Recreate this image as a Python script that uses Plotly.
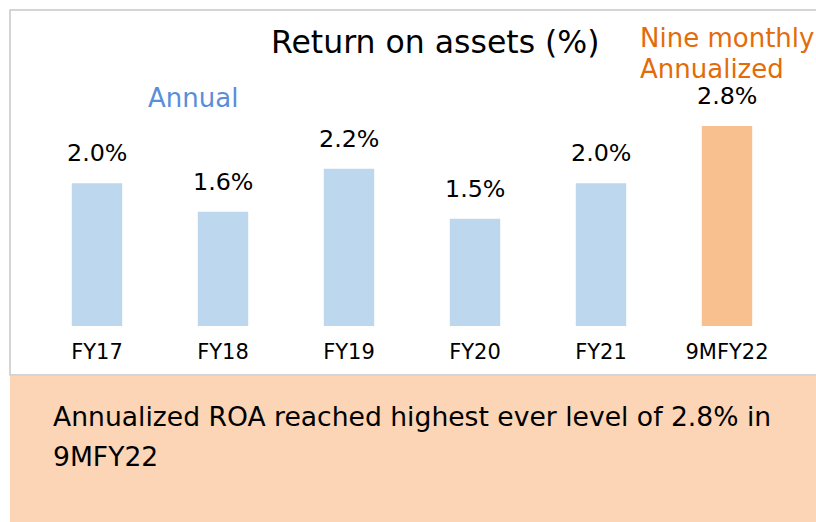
import plotly.graph_objects as go

categories = ["FY17", "FY18", "FY19", "FY20", "FY21", "9MFY22"]
roa_values = [2.0, 1.6, 2.2, 1.5, 2.0, 2.8]
value_labels = ["2.0%", "1.6%", "2.2%", "1.5%", "2.0%", "2.8%"]
bar_colors = ["#BDD7EE"] * 5 + ["#F9C08F"]

W, H = 816, 522
FONT = "DejaVu Sans"


def px_x(p):
    return p / W


def px_y(p):
    return 1 - p / H


def add_text(text, x, y, size, color, xanchor="center", align="center"):
    fig.add_annotation(
        x=px_x(x), y=px_y(y), xref="paper", yref="paper",
        text=text, showarrow=False,
        xanchor=xanchor, yanchor="middle", align=align,
        font=dict(family=FONT, size=size, color=color),
    )


fig = go.Figure()

fig.add_trace(
    go.Bar(
        x=list(range(len(categories))),
        y=roa_values,
        width=0.4,
        marker=dict(color=bar_colors, line=dict(width=0)),
        hoverinfo="skip",
    )
)

# value labels above the bars
for i, (v, lab) in enumerate(zip(roa_values, value_labels)):
    fig.add_annotation(
        x=i, y=v, xref="x", yref="y",
        text=lab, showarrow=False,
        yanchor="bottom", yshift=14,
        font=dict(family=FONT, size=23.8, color="black"),
    )

# white chart area with grey border, peach comment box
fig.add_shape(
    type="rect", xref="paper", yref="paper",
    x0=px_x(10), x1=px_x(830), y0=px_y(375), y1=px_y(10),
    line=dict(color="#C8C8C8", width=1.5), fillcolor="rgba(0,0,0,0)",
    layer="below",
)
fig.add_shape(
    type="rect", xref="paper", yref="paper",
    x0=px_x(10), x1=px_x(830), y0=px_y(540), y1=px_y(376),
    line=dict(width=0), fillcolor="#FBD5B5", layer="below",
)

add_text("Return on assets (%)", 435, 42, 31.5, "black")
add_text("Annual", 193, 98, 26, "#5A8ED8")
add_text("Nine monthly", 638, 38, 26, "#E36C09", xanchor="left", align="left")
add_text("Annualized", 638, 69, 26, "#E36C09", xanchor="left", align="left")
add_text("Annualized ROA reached highest ever level of 2.8% in",
         51, 416, 26.6, "black", xanchor="left", align="left")
add_text("9MFY22", 51, 456, 26.6, "black", xanchor="left", align="left")

fig.update_layout(
    width=W,
    height=H,
    margin=dict(l=0, r=0, t=0, b=0),
    paper_bgcolor="white",
    plot_bgcolor="rgba(0,0,0,0)",
    showlegend=False,
    xaxis=dict(
        range=[-97 / 126, (W - 97) / 126],
        tickmode="array",
        tickvals=list(range(len(categories))),
        ticktext=categories,
        tickfont=dict(family=FONT, size=21, color="black"),
        ticklabelstandoff=11,
        showgrid=False, zeroline=False, showline=False, ticks="",
        fixedrange=True,
    ),
    yaxis=dict(
        domain=[1 - 326 / H, 1],
        range=[0, 326 / (200 / 2.8)],
        visible=False,
        fixedrange=True,
    ),
)

fig.write_html(
    "out.html",
    config={"displayModeBar": False},
    post_script="document.body.style.margin='0';",
)
